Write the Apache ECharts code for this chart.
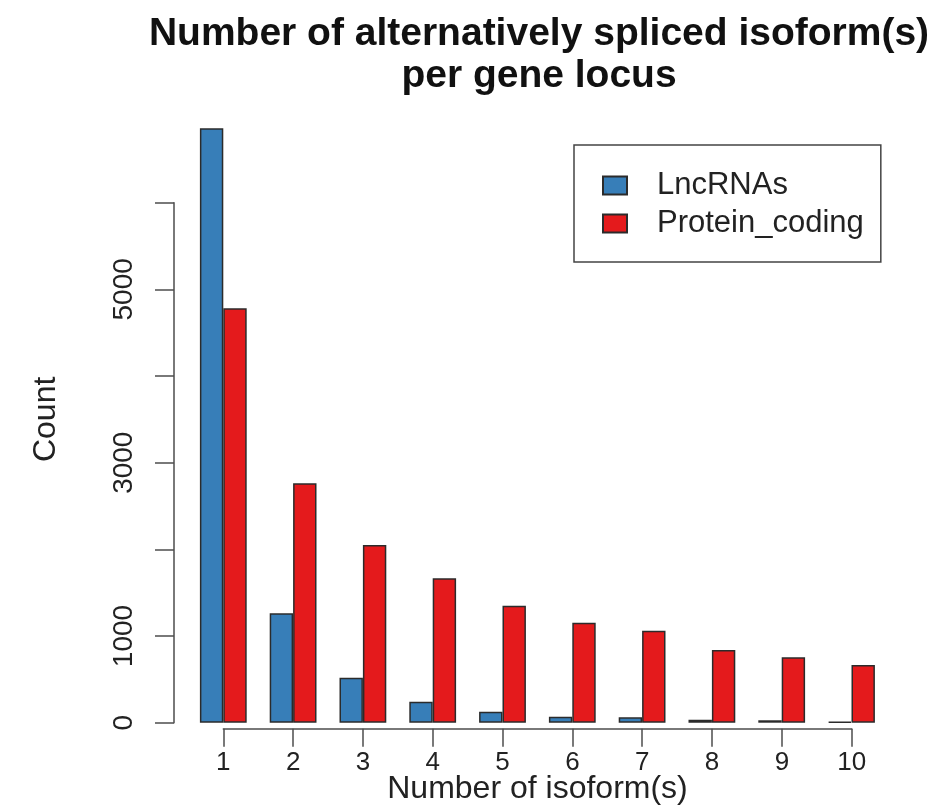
<!DOCTYPE html>
<html>
<head>
<meta charset="utf-8">
<title>Isoforms per gene locus</title>
<script src="https://cdn.jsdelivr.net/npm/echarts@6/dist/echarts.min.js"></script>
<style>
  html, body { margin: 0; padding: 0; background: #fff; }
  #chart { width: 943px; height: 807px; }
</style>
</head>
<body>
<div id="chart"></div>
<script>
// categories (number of isoforms)
const isoformCounts = ['1', '2', '3', '4', '5', '6', '7', '8', '9', '10'];
// counts
const lncRNAs = [6858, 1262, 519, 242, 127, 68, 62, 35, 28, 12];
const proteinCoding = [4781, 2762, 2050, 1666, 1350, 1154, 1062, 839, 754, 666];
// R only printed some of the y tick labels
const yTickLabels = ['0', '1000', '', '3000', '', '5000', ''];

const fontFamily = '"Liberation Sans", Arial, Helvetica, sans-serif';
const axisColor = '#4d4d4d';

const chart = echarts.init(document.getElementById('chart'));

const option = {
    backgroundColor: '#fff',
    animation: false,
    textStyle: { fontFamily: fontFamily, color: '#222' },
    title: {
        text: 'Number of alternatively spliced isoform(s)\nper gene locus',
        left: 534,
        top: 8,
        textAlign: 'center',
        textStyle: {
            fontFamily: fontFamily,
            fontSize: 39,
            fontWeight: 'bold',
            color: '#111',
            lineHeight: 42
        }
    },
    legend: {
        orient: 'vertical',
        left: 574,
        top: 145,
        padding: [25, 17, 23, 28],
        borderColor: '#444',
        borderWidth: 1.5,
        icon: 'rect',
        itemWidth: 24,
        itemHeight: 18,
        itemGap: 7,
        data: ['LncRNAs', 'Protein_coding'],
        textStyle: {
            fontFamily: fontFamily,
            fontSize: 31,
            lineHeight: 30,
            color: '#222',
            padding: [0, 0, 0, 25]
        }
    },
    grid: [
        // plotting region for the bars
        { left: 188.4, right: 56.6, top: 116, bottom: 84.3, outerBoundsMode: 'none' },
        // R-style axes that only span the tick range
        { left: 223.3, right: 91.3, top: 202.7, bottom: 84.3, outerBoundsMode: 'none' }
    ],
    xAxis: [
        {
            type: 'category',
            gridIndex: 0,
            data: isoformCounts,
            axisLine: { show: false },
            axisTick: { show: false },
            axisLabel: { show: false },
            splitLine: { show: false }
        },
        {
            type: 'value',
            gridIndex: 1,
            min: 1,
            max: 10,
            interval: 1,
            position: 'bottom',
            offset: 6,
            name: 'Number of isoform(s)',
            nameLocation: 'middle',
            nameGap: 44,
            nameMoveOverlap: false,
            nameTextStyle: { fontFamily: fontFamily, fontSize: 32, color: '#222' },
            axisLine: { show: true, onZero: false, lineStyle: { color: axisColor, width: 1.5 } },
            axisTick: { show: true, length: 18, lineStyle: { color: axisColor, width: 1.5 } },
            axisLabel: { fontFamily: fontFamily, fontSize: 26, color: '#222', margin: 21 },
            splitLine: { show: false }
        }
    ],
    yAxis: [
        {
            type: 'value',
            gridIndex: 0,
            min: 0,
            max: 7000,
            name: 'Count',
            nameLocation: 'middle',
            nameRotate: 90,
            nameGap: 126,
            nameMoveOverlap: false,
            nameTextStyle: { fontFamily: fontFamily, fontSize: 32, color: '#222' },
            axisLine: { show: false },
            axisTick: { show: false },
            axisLabel: { show: false },
            splitLine: { show: false }
        },
        {
            type: 'value',
            gridIndex: 1,
            min: 0,
            max: 6000,
            interval: 1000,
            position: 'left',
            offset: 49.3,
            axisLine: { show: true, onZero: false, lineStyle: { color: axisColor, width: 1.5 } },
            axisTick: { show: true, length: 19, lineStyle: { color: axisColor, width: 1.5 } },
            axisLabel: {
                rotate: 90,
                fontFamily: fontFamily,
                fontSize: 28,
                color: '#222',
                margin: 36,
                formatter: function (value) {
                    return yTickLabels[Math.round(value / 1000)] || '';
                }
            },
            splitLine: { show: false }
        }
    ],
    series: [
        {
            name: 'LncRNAs',
            type: 'bar',
            xAxisIndex: 0,
            yAxisIndex: 0,
            data: lncRNAs,
            barWidth: 23.4,
            barGap: '0%',
            itemStyle: { color: '#377EB8', borderColor: '#2b2b2b', borderWidth: 1.5 }
        },
        {
            name: 'Protein_coding',
            type: 'bar',
            xAxisIndex: 0,
            yAxisIndex: 0,
            data: proteinCoding,
            barWidth: 23.4,
            barGap: '0%',
            itemStyle: { color: '#E41A1C', borderColor: '#2b2b2b', borderWidth: 1.5 }
        }
    ]
};

chart.setOption(option);
</script>
</body>
</html>
